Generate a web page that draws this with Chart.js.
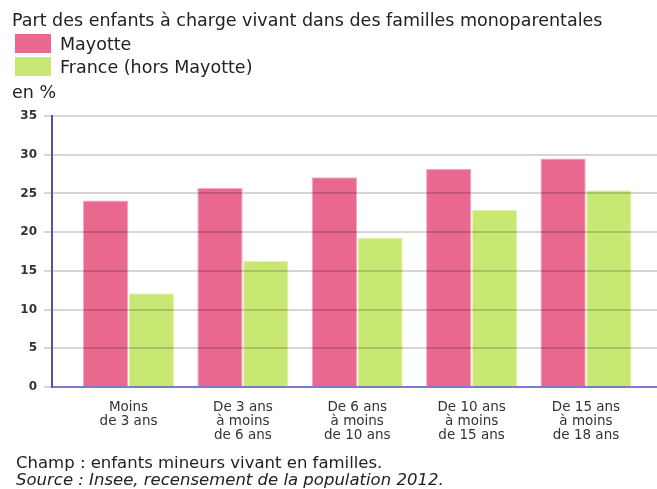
<!DOCTYPE html>
<html lang="fr">
<head>
<meta charset="utf-8">
<script src="https://cdn.jsdelivr.net/npm/chart.js@4.4.1/dist/chart.umd.min.js"></script>
<style>
  body { margin: 0; background: #fff; font-family: 'DejaVu Sans', Verdana, sans-serif; color: #222; }
  #wrap { position: relative; width: 657px; height: 489px; overflow: hidden; }
  #wrap canvas { position: absolute; left: 0; top: 0; }
  .txt { position: absolute; white-space: nowrap; line-height: 1; font-size: 17.5px; }
  .box { position: absolute; width: 36px; height: 19px; }
  .note { position: absolute; white-space: nowrap; line-height: 1; font-size: 16.5px; left: 16px; }
</style>
</head>
<body>
<div id="wrap">
  <canvas id="chart" width="657" height="489"></canvas>
  <div class="txt" style="left:12px; top:12px;">Part des enfants à charge vivant dans des familles monoparentales</div>
  <div id="legend"></div>
  <div class="txt" style="left:12px; top:84px;">en %</div>
  <div class="note" style="top:455px;">Champ : enfants mineurs vivant en familles.</div>
  <div class="note" style="top:472px; font-style: italic;">Source : Insee, recensement de la population 2012.</div>
</div>
<script>
// Catégories d'âge (libellés sur plusieurs lignes)
const categories = [
  ['Moins', 'de 3 ans'],
  ['De 3 ans', 'à moins', 'de 6 ans'],
  ['De 6 ans', 'à moins', 'de 10 ans'],
  ['De 10 ans', 'à moins', 'de 15 ans'],
  ['De 15 ans', 'à moins', 'de 18 ans']
];
// Valeurs en %
const mayotte = [24.1, 25.7, 27.1, 28.2, 29.5];
const franceHorsMayotte = [12.1, 16.3, 19.3, 22.9, 25.4];
const seriesNames = ['Mayotte', 'France (hors Mayotte)'];
const seriesColors = ['#e8688f', '#c9e873'];
const seriesBorders = ['#f4a9c0', '#e3f4b0'];
const yMin = 0, yMax = 35, yStep = 5;

// Légende HTML, une ligne par série
const legend = document.getElementById('legend');
seriesNames.forEach((name, i) => {
  const top = 34 + i * 23;
  legend.innerHTML += `
    <div class="box" style="left:15px; top:${top}px; background:${seriesColors[i]};"></div>
    <div class="txt" style="left:60px; top:${top + 2}px;">${name}</div>
  `;
});

const toPoints = (arr) => arr.map((v, i) => ({ x: i, y: v }));

const ctx = document.getElementById('chart').getContext('2d');
new Chart(ctx, {
  type: 'bar',
  data: {
    datasets: [mayotte, franceHorsMayotte].map((vals, i) => ({
      label: seriesNames[i],
      data: toPoints(vals),
      backgroundColor: seriesColors[i],
      borderColor: seriesBorders[i],
      borderWidth: 1,
      categoryPercentage: 0.8,
      barPercentage: 0.99
    }))
  },
  options: {
    responsive: false,
    devicePixelRatio: 1,
    animation: false,
    layout: { padding: { top: 116, bottom: 42, left: 0, right: 0 } },
    plugins: { legend: { display: false }, tooltip: { enabled: false } },
    scales: {
      x: {
        type: 'linear',
        offset: false,
        min: -0.669,
        max: 4.621,
        afterBuildTicks: (axis) => { axis.ticks = categories.map((_, i) => ({ value: i })); },
        afterFit: (axis) => { axis.height = 60; },
        grid: { display: false, drawTicks: false },
        border: { color: '#7c7cc6', width: 2, z: 2 },
        ticks: {
          autoSkip: false,
          maxRotation: 0,
          padding: 13,
          color: '#333',
          font: { family: 'DejaVu Sans', size: 13.5, lineHeight: 1.05 },
          callback: (value) => categories[value] || ''
        }
      },
      y: {
        min: yMin,
        max: yMax,
        afterFit: (axis) => { axis.width = 52; },
        grid: { color: 'rgba(0,0,0,0.16)', lineWidth: 2, tickLength: 8, z: 1 },
        border: { color: '#5252ae', width: 2, z: 2 },
        ticks: {
          stepSize: yStep,
          padding: 7,
          color: '#333',
          font: { family: 'DejaVu Sans', size: 12, weight: 'bold' }
        }
      }
    }
  }
});
</script>
</body>
</html>
